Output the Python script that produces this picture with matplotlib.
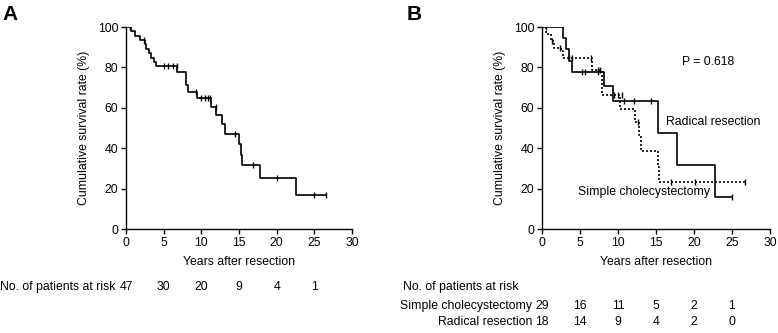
import numpy as np
import matplotlib.pyplot as plt

plt.rcParams['font.family'] = ['Liberation Sans', 'DejaVu Sans']

# panel A: all patients (step-post survival after each event)
a_time = [0, 0.6, 1.2, 1.8, 2.5, 2.7, 3.0, 3.3, 3.7, 4.0, 6.8, 7.9, 8.0, 8.2, 9.4,
          11.3, 12.0, 12.8, 13.1, 15.0, 15.2, 15.4, 17.8, 22.6, 26.6]
a_surv = [100, 97.9, 95.7, 93.6, 91.4, 89.2, 87.0, 84.9, 82.8, 80.8, 77.6, 74.5, 71.3,
          67.9, 64.7, 60.5, 56.2, 52.0, 47.2, 42.0, 36.7, 31.5, 25.2, 16.8, 16.8]
a_cens_t = [0.5, 2.4, 5.0, 5.6, 6.2, 6.7, 9.3, 9.9, 10.5, 10.9, 11.2, 12.0, 14.5, 16.9, 20.0, 25.0, 26.6]
a_cens_s = [100, 93.6, 80.8, 80.8, 80.8, 80.8, 67.9, 64.7, 64.7, 64.7, 64.7, 60.5, 47.2, 31.5, 25.2, 16.8, 16.8]

# panel B: simple cholecystectomy (dotted)
sc_time = [0, 0.5, 1.2, 1.6, 2.5, 2.7, 6.6, 7.9, 10.2, 12.2, 12.8, 13.0, 15.2, 15.4, 26.7]
sc_surv = [100, 96.6, 93.1, 89.7, 88.0, 84.6, 78.8, 66.1, 59.5, 52.9, 46.3, 38.6, 30.9, 23.1, 23.1]
sc_cens_t = [1.3, 2.4, 3.6, 3.9, 6.5, 7.3, 7.6, 9.5, 10.0, 10.5, 12.6, 17.0, 20.1, 26.7]
sc_cens_s = [93.1, 89.7, 84.6, 84.6, 84.6, 78.8, 78.8, 66.1, 66.1, 66.1, 52.9, 23.1, 23.1, 23.1]

# panel B: radical resection (solid)
rr_time = [0, 2.8, 3.1, 3.5, 3.95, 8.2, 9.3, 15.2, 17.7, 22.7, 25.0]
rr_surv = [100, 94.4, 88.9, 83.3, 77.8, 70.7, 63.6, 47.7, 31.8, 15.9, 15.9]
rr_cens_t = [0.5, 5.2, 5.6, 7.3, 10.8, 12.1, 14.4, 25.0]
rr_cens_s = [100, 77.8, 77.8, 77.8, 63.6, 63.6, 63.6, 15.9]

risk_years = [0, 5, 10, 15, 20, 25]
risk_all = [47, 30, 20, 9, 4, 1]
risk_sc = [29, 16, 11, 5, 2, 1]
risk_rr = [18, 14, 9, 4, 2, 0]

fs = 8.8
fig = plt.figure(figsize=(7.78, 3.33), dpi=100)
axA = fig.add_axes([0.162, 0.3123, 0.2905, 0.6066])
axB = fig.add_axes([0.6967, 0.3123, 0.293, 0.6066])

def style(ax):
    ax.set_xlim(0, 30)
    ax.set_ylim(0, 100)
    ax.set_xticks(np.arange(0, 31, 5))
    ax.set_yticks(np.arange(0, 101, 20))
    for s in ['top', 'right']:
        ax.spines[s].set_visible(False)
    for s in ['left', 'bottom']:
        ax.spines[s].set_linewidth(1.0)
    ax.tick_params(direction='out', length=3.5, width=1.0, labelsize=fs, pad=2)
    ax.set_ylabel('Cumulative survival rate (%)', fontsize=fs, labelpad=6)
    ax.set_xlabel('Years after resection', fontsize=fs, labelpad=5)

style(axA)
axA.step(a_time, a_surv, where='post', color='black', lw=1.2)
axA.plot(a_cens_t, a_cens_s, '|', color='black', ms=4.5, mew=1.0)

style(axB)
axB.step(sc_time, sc_surv, where='post', color='black', lw=1.2, ls=(0, (1.2, 1.2)))
axB.plot(sc_cens_t, sc_cens_s, '|', color='black', ms=4.5, mew=1.0)
axB.step(rr_time, rr_surv, where='post', color='black', lw=1.2)
axB.plot(rr_cens_t, rr_cens_s, '|', color='black', ms=4.5, mew=1.0)
axB.text(21.8, 82.5, 'P = 0.618', fontsize=fs, ha='center', va='center')
axB.text(22.5, 53, 'Radical resection', fontsize=fs, ha='center', va='center')
axB.text(13.4, 18.3, 'Simple cholecystectomy', fontsize=fs, ha='center', va='center')

fig.text(0.003, 0.985, 'A', fontsize=15, fontweight='bold', va='top')
fig.text(0.523, 0.985, 'B', fontsize=15, fontweight='bold', va='top')

# numbers at risk
trA = axA.get_xaxis_transform()
axA.text(-1.4, -0.287, 'No. of patients at risk', transform=trA, fontsize=fs, ha='right', va='center')
for x, n in zip(risk_years, risk_all):
    axA.text(x, -0.287, str(n), transform=trA, fontsize=fs, ha='center', va='center')

trB = axB.get_xaxis_transform()
fig.text(403 / 778, 1 - 287 / 333, 'No. of patients at risk', fontsize=fs, ha='left', va='center')
axB.text(-1.3, -0.381, 'Simple cholecystectomy', transform=trB, fontsize=fs, ha='right', va='center')
axB.text(-1.3, -0.460, 'Radical resection', transform=trB, fontsize=fs, ha='right', va='center')
for x, n in zip(risk_years, risk_sc):
    axB.text(x, -0.381, str(n), transform=trB, fontsize=fs, ha='center', va='center')
for x, n in zip(risk_years, risk_rr):
    axB.text(x, -0.460, str(n), transform=trB, fontsize=fs, ha='center', va='center')

fig.savefig('out.png', dpi=100)
